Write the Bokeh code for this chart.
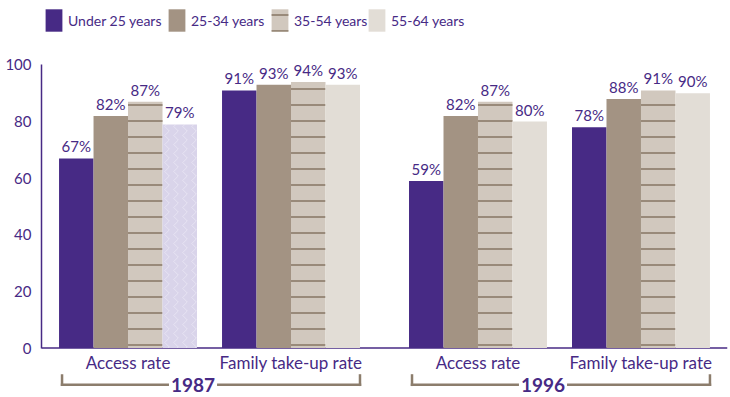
from bokeh.plotting import figure
from bokeh.models import FactorRange, Range1d, FixedTicker, Span, Legend, LegendItem, ColumnDataSource
from bokeh.transform import dodge
from bokeh.core.properties import value
from bokeh.embed import file_html
from bokeh.resources import INLINE

# ---- data ----
years = ["1987", "1996"]
measures = ["Access rate", "Family take-up rate"]
series_names = ["Under 25 years", "25-34 years", "35-54 years", "55-64 years"]
under_25 = [67, 91, 59, 78]
age_25_34 = [82, 93, 82, 88]
age_35_54 = [87, 94, 87, 91]
age_55_64 = [79, 93, 80, 90]
y_ticks = [0, 20, 40, 60, 80, 100]

# ---- styles ----
PURPLE = "#472a85"
BROWN = "#a39383"
STONE = "#d1c8be"
STONE_LINE = "#998a7a"
PALE = "#e2ddd6"
LAVENDER = "#d9d4ea"
BRACKET = "#8c7d6c"
FONT = "Lato"
BAR_W = 0.23
OFFSETS = [-1.5 * BAR_W, -0.5 * BAR_W, 0.5 * BAR_W, 1.5 * BAR_W]
LEGEND_X = [2, 125, 228, 325]
YEAR_SHIFT = -0.11

factors = [(y, m) for y in years for m in measures]
special = ("1987", "Access rate")
fill_55 = [LAVENDER if f == special else PALE for f in factors]
hatch_55 = ["vertical_wave" if f == special else " " for f in factors]
series = [under_25, age_25_34, age_35_54, age_55_64]
cols = ["s0", "s1", "s2", "s3"]

data = dict(x=factors, fill55=fill_55, hatch55=hatch_55)
for c, vals in zip(cols, series):
    data[c] = vals
    data[c + "_lbl"] = [f"{v}%" for v in vals]
src = ColumnDataSource(data)

xr = FactorRange(*factors, factor_padding=0.087, group_padding=0.247,
                 range_padding=0.077, range_padding_units="absolute")
p = figure(width=730, height=397, x_range=xr, y_range=Range1d(-17.49, 122.79),
           x_axis_location=None, toolbar_location=None, output_backend="svg",
           min_border_left=41, min_border_right=3, min_border_top=0, min_border_bottom=0,
           outline_line_color=None)
p.background_fill_color = "white"
p.border_fill_color = "white"
p.grid.visible = False

# baseline
p.add_layout(Span(location=0, dimension="width", line_color=PURPLE, line_width=1.5, level="underlay"))

renderers = []
styles = [
    dict(fill_color=PURPLE),
    dict(fill_color=BROWN),
    dict(fill_color=STONE, hatch_pattern="horizontal_line", hatch_color=STONE_LINE,
         hatch_weight=2, hatch_scale=16),
    dict(fill_color="fill55", hatch_pattern="hatch55", hatch_color="white",
         hatch_alpha=0.35, hatch_weight=1, hatch_scale=9),
]
for c, off, st in zip(cols, OFFSETS, styles):
    r = p.vbar(x=dodge("x", off, range=xr), top=c, width=BAR_W, bottom=0, source=src,
               line_color=None, **st)
    renderers.append(r)
    p.text(x=dodge("x", off, range=xr), y=c, text=c + "_lbl", source=src,
           text_align="center", text_baseline="bottom", y_offset=-3,
           text_font=value(FONT), text_font_size="15px", text_color=PURPLE)

# category labels
cat_src = ColumnDataSource(dict(x=factors, m=[f[1] for f in factors]))
p.text(x="x", y=-5.1, text="m", source=cat_src, text_align="center", text_baseline="middle",
       text_font=value(FONT), text_font_size="17px", text_color=PURPLE)

# year brackets
br_src = ColumnDataSource(dict(year=years,
                               first=[(y, measures[0]) for y in years],
                               last=[(y, measures[-1]) for y in years]))
BR_Y = -13.0
BR_TOP = -9.7
seg_kw = dict(line_color=BRACKET, line_width=2.5, line_cap="square", source=br_src)
p.segment(x0=dodge("first", -0.44, range=xr), x1=dodge("last", 0.46, range=xr),
          y0=BR_Y, y1=BR_Y, **seg_kw)
p.segment(x0=dodge("first", -0.44, range=xr), x1=dodge("first", -0.44, range=xr),
          y0=BR_TOP, y1=BR_Y, **seg_kw)
p.segment(x0=dodge("last", 0.46, range=xr), x1=dodge("last", 0.46, range=xr),
          y0=BR_TOP, y1=BR_Y, **seg_kw)
p.text(x=dodge("year", YEAR_SHIFT, range=xr), y=BR_Y, text="year", source=br_src,
       text_align="center", text_baseline="middle", text_font=value(FONT),
       text_font_size="19px", text_font_style="bold", text_color=PURPLE,
       background_fill_color="white", padding=2)

# y axis
ax = p.yaxis[0]
ax.ticker = FixedTicker(ticks=y_ticks)
ax.bounds = (0, 100)
ax.axis_line_color = PURPLE
ax.axis_line_width = 1.5
ax.major_tick_line_color = None
ax.minor_tick_line_color = None
ax.major_label_standoff = 4
ax.major_label_text_color = PURPLE
ax.major_label_text_font = FONT
ax.major_label_text_font_size = "15px"

# legend: one small legend per series, laid out in a row
for i, (name, r, lx) in enumerate(zip(series_names, renderers, LEGEND_X)):
    item = LegendItem(label=name, renderers=[r], index=1 if i == 3 else None)
    lg = Legend(items=[item], location=(lx, 363), orientation="horizontal",
                glyph_width=21, glyph_height=28, label_height=28, label_standoff=4,
                spacing=0, padding=0, margin=0, background_fill_alpha=0,
                border_line_color=None, label_text_font=FONT, label_text_font_size="14px",
                label_text_color=PURPLE)
    p.add_layout(lg)

open("out.html", "w").write(file_html(p, INLINE))
